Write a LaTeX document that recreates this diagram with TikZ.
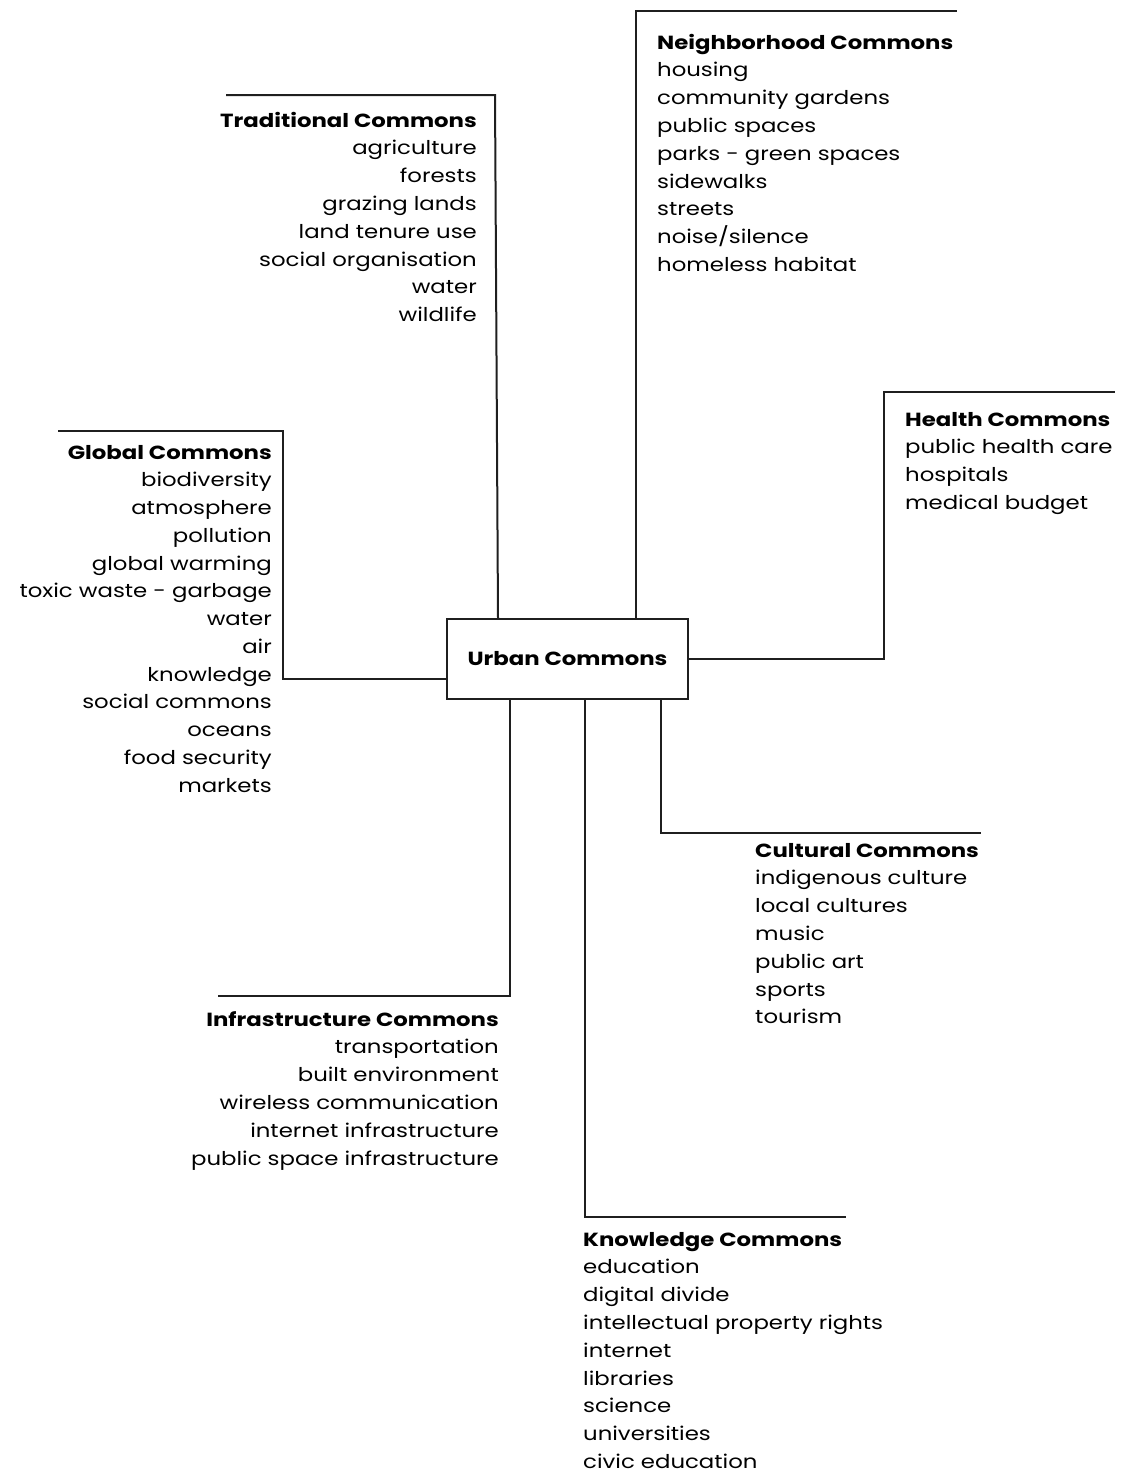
\documentclass[tikz,border=0pt]{standalone}
\usepackage{fontspec}
\setmainfont{Poppins}[FakeStretch=1.2]
\begin{document}
\begin{tikzpicture}[x=1pt,y=-1pt,
  conn/.style={line width=2pt, draw=black!88},
  item/.style={inner sep=0pt, font=\fontsize{19}{27.8}\selectfont},
  head/.style={item, font=\fontsize{19}{27.8}\selectfont\bfseries},
  hub/.style={draw=black!88, line width=2pt, minimum width=241pt, minimum height=80pt, inner sep=0pt, font=\fontsize{19}{24}\selectfont\bfseries}]
\useasboundingbox (0,0) rectangle (1128,1473);
\node[hub] (uc) at (567.5,659) {\raisebox{-2.5pt}{Urban Commons}};
% corner coordinates
\coordinate (trA) at (226,95); \coordinate (trB) at (495,95);
\coordinate (nbA) at (636,11); \coordinate (nbB) at (957,11);
\coordinate (heA) at (884,659); \coordinate (heB) at (884,392); \coordinate (heC) at (1115,392);
\coordinate (glA) at (283,679); \coordinate (glB) at (283,431); \coordinate (glC) at (58,431);
\coordinate (inA) at (510,996); \coordinate (inB) at (218,996);
\coordinate (knA) at (585,1217); \coordinate (knB) at (846,1217);
\coordinate (cuA) at (661,833); \coordinate (cuB) at (981,833);
\draw[conn] (uc.north -| 498,0) -- (trB) -- (trA);
\draw[conn] (uc.north -| 636,0) -- (nbA) -- (nbB);
\draw[conn] (uc.east |- heA) -- (heA) -- (heB) -- (heC);
\draw[conn] (uc.west |- glA) -- (glA) -- (glB) -- (glC);
\draw[conn] (uc.south -| inA) -- (inA) -- (inB);
\draw[conn] (uc.south -| knA) -- (knA) -- (knB);
\draw[conn] (uc.south -| cuA) -- (cuA) -- (cuB);
% Traditional
\node[head, anchor=base east] (tr0) at (477,127) {Traditional Commons};
\foreach \t [count=\i] in {agriculture,forests,grazing lands,land tenure use,social organisation,water,wildlife}
  \node[item, anchor=base east] (tr\i) at (477,{127+27.8*\i}) {\t};
% Neighborhood
\node[head, anchor=base west] (nb0) at (657,49) {Neighborhood Commons};
\foreach \t [count=\i] in {housing,community gardens,public spaces,parks - green spaces,sidewalks,streets,noise/silence,homeless habitat}
  \node[item, anchor=base west] (nb\i) at (657,{49+27.8*\i}) {\t};
% Health
\node[head, anchor=base west] (he0) at (905,426) {Health Commons};
\foreach \t [count=\i] in {public health care,hospitals,medical budget}
  \node[item, anchor=base west] (he\i) at (905,{426+27.8*\i}) {\t};
% Global
\node[head, anchor=base east] (gl0) at (272,459) {Global Commons};
\foreach \t [count=\i] in {biodiversity,atmosphere,pollution,global warming,toxic waste - garbage,water,air,knowledge,social commons,oceans,food security,markets}
  \node[item, anchor=base east] (gl\i) at (272,{459+27.75*\i}) {\t};
% Cultural
\node[head, anchor=base west] (cu0) at (755,857) {Cultural Commons};
\foreach \t [count=\i] in {indigenous culture,local cultures,music,public art,sports,tourism}
  \node[item, anchor=base west] (cu\i) at (755,{857+27.8*\i}) {\t};
% Infrastructure
\node[head, anchor=base east] (in0) at (499,1026) {Infrastructure Commons};
\foreach \t [count=\i] in {transportation,built environment,wireless communication,internet infrastructure,public space infrastructure}
  \node[item, anchor=base east] (in\i) at (499,{1026+27.8*\i}) {\t};
% Knowledge
\node[head, anchor=base west] (kn0) at (583,1246) {Knowledge Commons};
\foreach \t [count=\i] in {education,digital divide,intellectual property rights,internet,libraries,science,universities,civic education}
  \node[item, anchor=base west] (kn\i) at (583,{1246+27.8*\i}) {\t};
\end{tikzpicture}
\end{document}
